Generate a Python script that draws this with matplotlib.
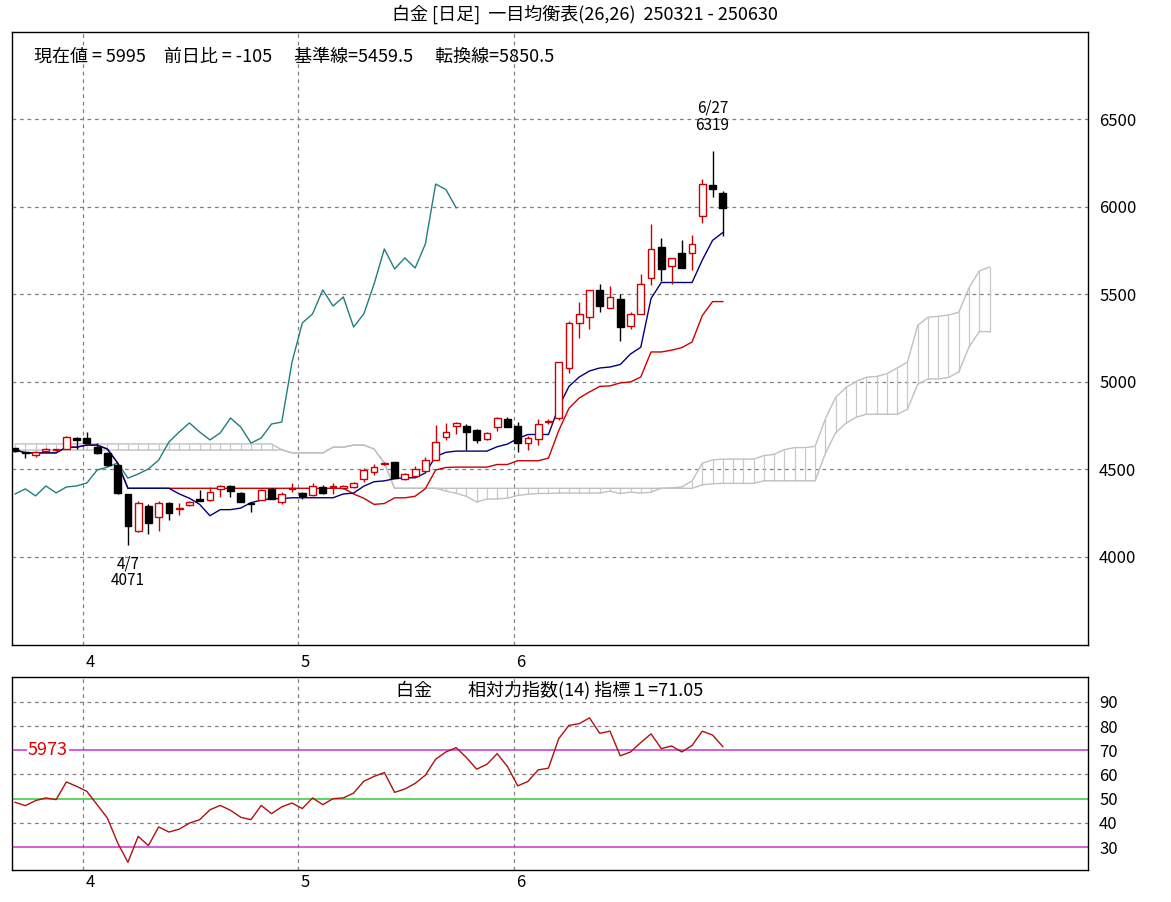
import matplotlib
matplotlib.use("Agg")
import matplotlib.pyplot as plt
import numpy as np
import pandas as pd

FONT = "Noto Sans CJK JP"
plt.rcParams["font.family"] = FONT

opens  = [4620,4595,4585,4605,4610,4617,4680,4680,4630,4594,4526,4360,4149,4291,4229,4309,4274,4297,4331,4326,
          4389,4406,4366,4310,4326,4389,4314,4389,4366,4354,4400,4400,4394,4400,4446,4486,4531,4543,4446,4463,
          4491,4554,4686,4749,4749,4726,4674,4743,4789,4749,4651,4674,4771,4794,5080,5337,5371,5526,5423,5474,
          5320,5389,5594,5771,5663,5737,5737,5949,6126,6080]
highs  = [4625,4605,4605,4625,4615,4690,4685,4714,4650,4600,4530,4360,4320,4300,4320,4315,4310,4320,4383,4400,
          4410,4410,4370,4315,4390,4395,4370,4420,4370,4420,4410,4420,4410,4430,4510,4530,4540,4545,4480,4520,
          4570,4754,4766,4770,4760,4730,4715,4800,4800,4770,4690,4790,4790,5114,5350,5457,5526,5560,5550,5503,
          5400,5617,5903,5823,5709,5811,5840,6160,6319,6090]
lows   = [4600,4565,4570,4600,4605,4617,4617,4650,4590,4520,4360,4071,4140,4131,4149,4211,4240,4290,4320,4320,
          4340,4340,4314,4257,4326,4331,4300,4370,4330,4350,4360,4360,4390,4395,4430,4470,4525,4451,4440,4460,
          4490,4554,4670,4703,4611,4650,4670,4720,4740,4600,4611,4640,4760,4780,5051,5251,5303,5400,5420,5234,
          5300,5389,5554,5577,5560,5651,5640,5909,6057,5834]
closes = [4605,4594,4600,4615,4610,4686,4670,4650,4597,4526,4366,4177,4309,4194,4309,4251,4274,4314,4320,4371,
          4406,4377,4314,4300,4383,4331,4360,4389,4349,4406,4366,4400,4406,4423,4497,4514,4537,4451,4474,4503,
          4554,4657,4714,4766,4714,4669,4709,4794,4743,4651,4680,4760,4771,5114,5337,5389,5526,5434,5486,5314,
          5389,5560,5760,5646,5709,5651,5789,6131,6100,5995]

# cloud values before the window
span_a_pre = [4646]*26
span_b_pre = [4611]*26

rsi = [48.5,47.1,49.2,50.3,49.6,56.9,55.1,53.0,47.5,42.0,31.7,23.7,34.4,30.6,38.3,36.2,37.4,39.9,41.3,45.4,
       47.2,45.2,42.3,41.3,47.2,43.8,46.6,48.2,45.9,50.3,47.5,50.0,50.3,52.3,57.2,59.2,60.8,52.6,54.0,56.3,
       59.7,66.3,69.3,71.1,67.0,62.2,64.2,68.6,63.3,55.3,57.1,61.9,62.6,74.8,80.3,81.0,83.4,77.0,77.9,67.7,
       69.3,73.2,76.8,70.7,71.8,69.3,72.0,77.9,76.3,71.5]

month_labels = ["4", "5", "6"]
month_pos = [6.6, 27.6, 48.6]
price_ticks = [4000, 4500, 5000, 5500, 6000, 6500]
rsi_ticks = [30, 40, 50, 60, 70, 80, 90]

df = pd.DataFrame({"o": opens, "h": highs, "l": lows, "c": closes})
n = len(df)
x = np.arange(n)
tenkan = (df.h.rolling(9, min_periods=1).max() + df.l.rolling(9, min_periods=1).min()) / 2
kijun = (df.h.rolling(26, min_periods=1).max() + df.l.rolling(26, min_periods=1).min()) / 2
spanA = np.concatenate([span_a_pre, ((tenkan + kijun) / 2).values])
spanB = np.concatenate([span_b_pre, ((df.h.rolling(52, min_periods=1).max() + df.l.rolling(52, min_periods=1).min()) / 2).values])
xc = np.arange(len(spanA))

fig = plt.figure(figsize=(11.71, 9.02), dpi=100)
ax = fig.add_axes([12/1171, 257/902, 1076/1171, 613/902])
ax2 = fig.add_axes([12/1171, 32/902, 1076/1171, 193/902])

xmin, xmax = -0.3, 104.6
ax.set_xlim(xmin, xmax)
ax.set_ylim(3497, 7000)

for p in price_ticks:
    ax.axhline(p, color="#808080", ls=(0, (3, 3)), lw=0.9, zorder=0)
for m in month_pos:
    ax.axvline(m, color="#808080", ls=(0, (3, 3)), lw=0.9, zorder=0)
    ax2.axvline(m, color="#808080", ls=(0, (3, 3)), lw=0.9, zorder=0)

# cloud
ax.vlines(xc, np.minimum(spanA, spanB), np.maximum(spanA, spanB), color="#c8c8c8", lw=0.9, zorder=1)
ax.plot(xc, spanA, color="#c0c0c0", lw=1.0, zorder=1)
ax.plot(xc, spanB, color="#c0c0c0", lw=1.0, zorder=1)

# chikou
ax.plot(x[:n-26], df.c.values[26:], color="#1f7f7f", lw=1.0, zorder=2)
ax.plot(x, kijun, color="#cc0000", lw=1.0, zorder=2)
ax.plot(x, tenkan, color="#000080", lw=1.0, zorder=2)

# candles
w = 0.66
for i in range(n):
    o, h, l, c = opens[i], highs[i], lows[i], closes[i]
    up = c >= o
    col = "#cc0000" if up else "black"
    ax.vlines(i, l, h, color=col, lw=1.0, zorder=3)
    bot, top = min(o, c), max(o, c)
    hgt = max(top - bot, 6)
    ax.bar(i, hgt, bottom=bot, width=w, color="white" if up else "black",
           edgecolor=col, lw=1.0, zorder=4)

# high/low annotations
ihi = int(np.argmax(highs)); ilo = int(np.argmin(lows))
ax.text(ihi, highs[ihi] + 100, "6/27\n%d" % highs[ihi], ha="center", va="bottom", fontsize=11, linespacing=1.0)
ax.text(ilo, lows[ilo] - 60, "4/7\n%d" % lows[ilo], ha="center", va="top", fontsize=11, linespacing=1.0)

ax.text(0.02, 0.975, "現在値 = 5995　前日比 = -105　 基準線=5459.5　 転換線=5850.5",
        transform=ax.transAxes, ha="left", va="top", fontsize=13)
fig.text(585/1171, 1 - 14/902, "白金 [日足]  一目均衡表(26,26)  250321 - 250630",
         ha="center", va="center", fontsize=13)

ax.yaxis.tick_right()
ax.set_yticks(price_ticks)
ax.set_yticklabels([str(p) for p in price_ticks], fontsize=12)
ax.tick_params(axis="y", length=0, pad=8)
ax.set_xticks([])
for m, lab in zip(month_pos, month_labels):
    ax.text(m + 0.7, 3497 - 50, lab, ha="center", va="top", fontsize=12)

# RSI panel
ax2.set_xlim(xmin, xmax)
ax2.set_ylim(20.5, 100.3)
for v in [40, 60, 80, 90]:
    ax2.axhline(v, color="#808080", ls=(0, (3, 3)), lw=0.9, zorder=0)
ax2.axhline(70, color="#cc33cc", lw=1.1, zorder=1)
ax2.axhline(30, color="#cc33cc", lw=1.1, zorder=1)
ax2.axhline(50, color="#33cc33", lw=1.1, zorder=1)
ax2.plot(x, rsi, color="#b01010", lw=1.0, zorder=3)
ax2.text(3.2, 70, "5973", color="#dd0000", fontsize=13, ha="center", va="center",
         bbox=dict(facecolor="white", edgecolor="none", pad=0.5), zorder=4)
ax2.text(0.5, 0.98, "白金　　相対力指数(14) 指標１=71.05", transform=ax2.transAxes,
         ha="center", va="top", fontsize=13)
ax2.yaxis.tick_right()
ax2.set_yticks(rsi_ticks)
ax2.set_yticklabels([str(v) for v in rsi_ticks], fontsize=12)
ax2.tick_params(axis="y", length=0, pad=8)
ax2.set_xticks([])
for m, lab in zip(month_pos, month_labels):
    ax2.text(m + 0.7, 20.5 - 1.5, lab, ha="center", va="top", fontsize=12)

for a in (ax, ax2):
    for s in a.spines.values():
        s.set_color("black"); s.set_linewidth(1.0)

fig.savefig("out.png", dpi=100, facecolor="white")
